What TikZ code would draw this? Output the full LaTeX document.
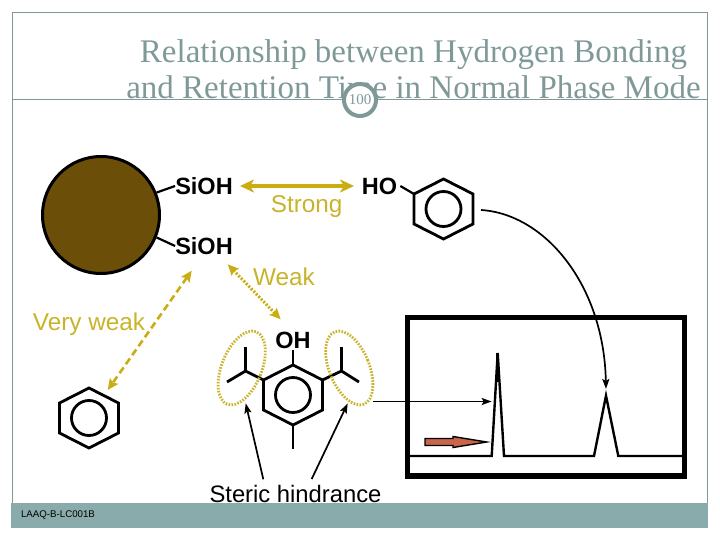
\documentclass[tikz,border=0pt]{standalone}
\usepackage{fontspec}
\setmainfont{Liberation Serif}
\setsansfont{Liberation Sans}
\usepackage{xcolor}
\usetikzlibrary{calc,arrows.meta}
\definecolor{slate}{HTML}{7F9999}
\definecolor{barfill}{HTML}{8AABAB}
\definecolor{olive}{HTML}{C8B32A}
\definecolor{gold}{HTML}{C9AD12}
\definecolor{soil}{HTML}{6B4F08}
\definecolor{brick}{HTML}{C8654A}
\tikzset{
  frameline/.style={draw=slate, line width=1pt},
  titlelab/.style={text=slate, align=center, inner sep=0pt, font=\fontsize{33}{36}\selectfont},
  lab/.style={text=olive, inner sep=0pt, font=\sffamily\fontsize{24.3}{26}\selectfont},
  chem/.style={text=black, inner sep=0pt, font=\sffamily\bfseries\fontsize{23.5}{26}\selectfont},
  bond/.style={draw=black, line width=2.8pt},
  thinbond/.style={draw=black, line width=2.2pt},
  strongarrow/.style={draw=gold, line width=3.4pt, {Stealth[length=14pt,width=13pt,inset=4pt]}-{Stealth[length=14pt,width=13pt,inset=4pt]}},
  weakarrow/.style={draw=gold, line width=3pt, dash pattern=on 2pt off 1.6pt, {Stealth[length=11pt,width=10pt,inset=2pt]}-{Stealth[length=11pt,width=10pt,inset=2pt]}},
  vweakarrow/.style={draw=gold, line width=2.6pt, dash pattern=on 7pt off 4pt, {Stealth[length=11pt,width=10pt,inset=2pt]}-{Stealth[length=11pt,width=10pt,inset=2pt]}},
  pointer/.style={draw=black, line width=1.7pt, -{Stealth[length=10pt,width=7pt,inset=2pt]}},
  steric/.style={draw=olive, line width=2.8pt, dash pattern=on 1.6pt off 1.4pt},
  benzene/.pic={
    \coordinate (-n) at (0,-30);
    \coordinate (-s) at (0,30);
    \coordinate (-nw) at (-29.5,-15);
    \coordinate (-ne) at (29.5,-15);
    \draw[bond] (-n)--(-ne)--(29.5,15)--(-s)--(-29.5,15)--(-nw)--cycle;
    \draw[bond] (0,0) circle (17.5);
  },
}
\begin{document}
\begin{tikzpicture}[x=1pt,y=-1pt]
  \useasboundingbox (0,0) rectangle (720,540);

  \draw[frameline] (12.7,503)--(12.7,12.5)--(707.5,12.5)--(707.5,503);
  \draw[frameline] (12.7,100)--(707.5,100);
  \node[titlelab] (title) at (413.5,69) {Relationship between Hydrogen Bonding\\and Retention Time in Normal Phase Mode};
  \node[circle, draw=slate, fill=white, line width=4pt, minimum size=32pt, inner sep=0pt, text=slate, font=\fontsize{15}{16}\selectfont] (page) at (360,100) {100};
  \fill[barfill] (11,503.3) rectangle (707.7,527.5);
  \node[inner sep=0pt, font=\sffamily\fontsize{9.7}{11}\selectfont] (code) at (58,515.5) {LAAQ-B-LC001B};

  % silica particle
  \node[circle, draw=black, fill=soil, line width=3pt, minimum size=117pt, inner sep=0pt] (ball) at (101,215) {};
  \node[chem] (sioha) at (204,186) {SiOH};
  \node[chem] (siohb) at (204,246) {SiOH};
  \draw[thinbond] (ball.22)--(sioha.west);
  \draw[thinbond] (ball.-22)--(siohb.west);

  \pic (phenol) at (443.5,209) {benzene};
  \node[chem, inner sep=3pt] (ho) at (379.5,186) {HO};
  \draw[thinbond] (ho.east)--(phenol-nw);

  \coordinate (sa) at (240,186);
  \coordinate (sb) at (354,186);
  \draw[strongarrow] (sa)--(sb);
  \node[lab] (strong) at (306.7,207) {Strong};

  \coordinate (wa) at (227.7,264.3);
  \coordinate (wb) at (280.7,319.3);
  \draw[weakarrow] (wa)--(wb);
  \node[lab] (weak) at (284,277) {Weak};

  \coordinate (va) at (191.7,270.7);
  \coordinate (vb) at (107.7,390);
  \draw[vweakarrow] (va)--(vb);
  \node[lab] (vweak) at (89,324) {Very weak};

  \pic (lone) at (89,418) {benzene};

  % hindered phenol
  \pic (bht) at (293,395) {benzene};
  \node[chem, inner sep=1.5pt] (oh) at (293,340) {OH};
  \draw[bond] (oh.south)--(bht-n);
  \coordinate (me) at (293,449);
  \draw[bond] (bht-s)--(me);
  \coordinate (la) at (245.5,371);
  \coordinate (lb) at (245.5,347);
  \coordinate (lc) at (227,382);
  \draw[bond] (bht-nw)--(la)--(lb) (la)--(lc);
  \coordinate (ra) at (341.5,371);
  \coordinate (rb) at (341.5,347);
  \coordinate (rc) at (359,382);
  \draw[bond] (bht-ne)--(ra)--(rb) (ra)--(rc);

  \draw[steric] (241.7,368) circle [x radius=20pt, y radius=39pt, rotate=-22];
  \draw[steric] (349.3,368) circle [x radius=20pt, y radius=39pt, rotate=22];

  \node[text=black, inner sep=0pt, font=\sffamily\fontsize{23.8}{26}\selectfont] (hind) at (295.5,494) {Steric hindrance};
  \coordinate (ha) at (263.3,479.3);
  \coordinate (hb) at (245.7,403.3);
  \coordinate (hc) at (311.7,479);
  \coordinate (hd) at (347.7,403.3);
  \draw[pointer] (ha)--(hb);
  \draw[pointer] (hc)--(hd);

  % chromatogram
  \draw[draw=black, line width=5.5pt] (407.7,317.7) rectangle (684.5,476);
  \draw[draw=black, line width=2.4pt] (410,456)--(491.7,456)--(497.7,353)--(504,456)--(594,456)--(606,395.7)--(618.3,456)--(682,456);
  \draw[draw=black, line width=2.8pt] (497.7,353)--(497.7,382);

  \coordinate (ea) at (372.7,401.5);
  \coordinate (eb) at (491.7,401.5);
  \draw[pointer] (ea)--(eb);
  \coordinate (ca) at (481,210);
  \coordinate (cb) at (606,389);
  \draw[pointer] (ca) .. controls (545,214) and (604,285) .. (cb);

  \draw[draw=black, fill=brick, line width=1.4pt] (425,438.5)--(453,438.5)--(453,436.5)--(486.7,442)--(453,447.5)--(453,445.5)--(425,445.5)--cycle;
\end{tikzpicture}
\end{document}
